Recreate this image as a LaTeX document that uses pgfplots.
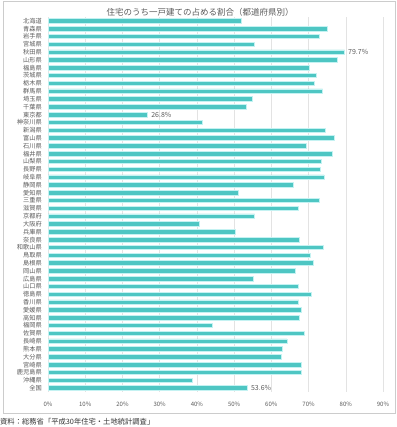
\documentclass[border=0pt]{standalone}
\usepackage{pgfplots}
\pgfplotsset{compat=1.18}
\usepackage{pgfplotstable}
\usepackage{fontspec}
\setmainfont{Noto Sans CJK JP}
\definecolor{barc}{RGB}{78,198,195}
\definecolor{glow}{RGB}{196,242,242}
\definecolor{txt}{RGB}{90,90,90}
\pgfplotstableread{
idx val
0 52.0
1 75.0
2 73.0
3 55.5
4 79.7
5 77.8
6 70.1
7 72.1
8 71.6
9 73.8
10 54.8
11 53.2
12 26.8
13 41.4
14 74.5
15 76.9
16 69.3
17 76.4
18 73.5
19 73.3
20 74.2
21 66.0
22 51.2
23 72.9
24 67.4
25 55.5
26 40.7
27 50.4
28 67.6
29 74.1
30 70.5
31 71.4
32 66.5
33 55.3
34 67.4
35 70.7
36 67.4
37 68.2
38 67.6
39 44.2
40 69.0
41 64.2
42 63.1
43 62.8
44 68.2
45 68.2
46 38.9
47 53.6
}\data
\begin{document}
\begin{tikzpicture}[x=1pt,y=1pt]
\path[use as bounding box] (0,0) rectangle (396,427);
\draw[gray!40, line width=0.8pt] (3,14) rectangle (395.3,425.5);
\node[text=txt, font=\fontsize{8.5}{10}\selectfont] at (200,415) {住宅のうち一戸建ての占める割合（都道府県別）};
\node[anchor=west, text=black!80, font=\fontsize{7.3}{9}\selectfont, inner sep=0pt] at (0,5.5) {資料：総務省「平成30年住宅・土地統計調査」};
\begin{axis}[
  at={(48pt,35pt)}, anchor=south west,
  scale only axis, width=335pt, height=375pt,
  xmin=0, xmax=90, ymin=-0.5, ymax=47.5,
  y dir=reverse,
  axis line style={draw=none},
  tick style={draw=none},
  xmajorgrids, grid style={gray!22, line width=0.5pt},
  xtick={0,10,...,90},
  ytick={0,...,47},
  yticklabels={北海道,青森県,岩手県,宮城県,秋田県,山形県,福島県,茨城県,栃木県,群馬県,埼玉県,千葉県,東京都,神奈川県,新潟県,富山県,石川県,福井県,山梨県,長野県,岐阜県,静岡県,愛知県,三重県,滋賀県,京都府,大阪府,兵庫県,奈良県,和歌山県,鳥取県,島根県,岡山県,広島県,山口県,徳島県,香川県,愛媛県,高知県,福岡県,佐賀県,長崎県,熊本県,大分県,宮崎県,鹿児島県,沖縄県,全国},
  yticklabel style={font=\fontsize{6.2}{7}\selectfont, text=txt, inner sep=0pt, xshift=-6pt},
  xticklabel={\pgfmathprintnumber{\tick}\%},
  xticklabel style={font=\fontsize{6}{7}\selectfont, text=txt, yshift=-6pt},
  /pgf/number format/assume math mode=true,
  major tick length=0pt,
  xbar, bar width=4.5pt,
  clip=false,
]
\addplot[fill=barc, draw=glow, line width=0.8pt] table[x=val, y=idx] {\data};
\node[anchor=west, text=txt, font=\fontsize{7}{8}\selectfont] at (axis cs:79.7,4) {79.7\%};
\node[anchor=west, text=txt, font=\fontsize{7}{8}\selectfont] at (axis cs:26.8,12) {26.8\%};
\node[anchor=west, text=txt, font=\fontsize{7}{8}\selectfont] at (axis cs:53.6,47) {53.6\%};
\end{axis}
\end{tikzpicture}
\end{document}
